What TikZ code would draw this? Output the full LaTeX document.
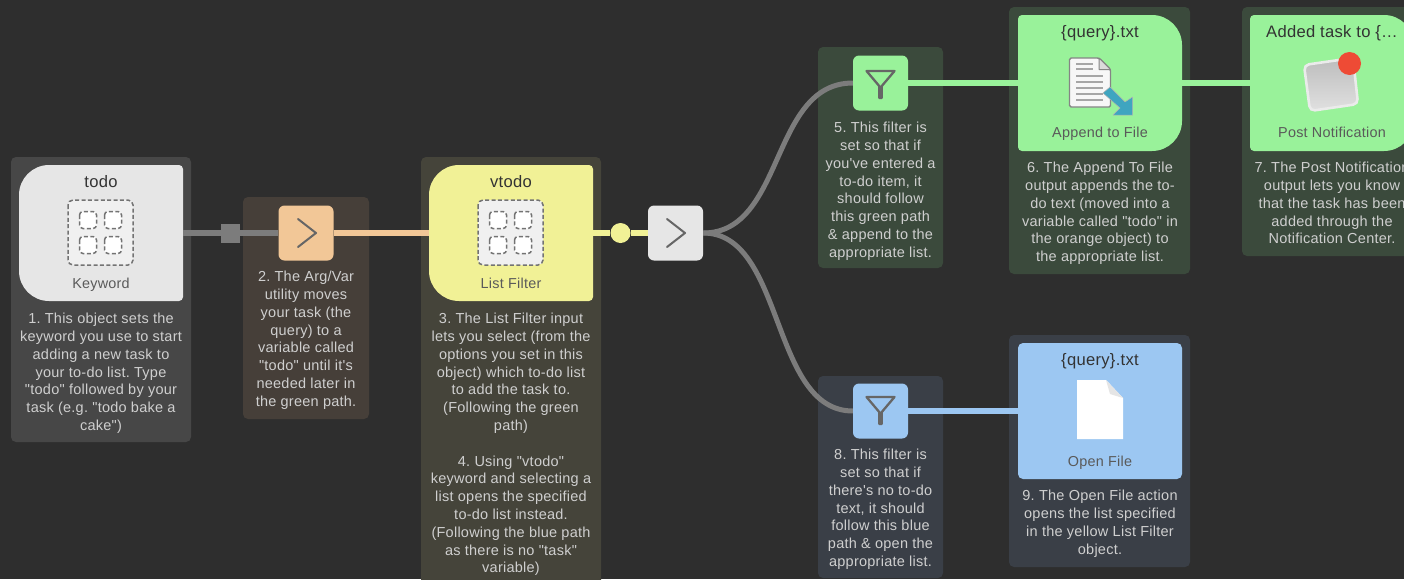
\documentclass[tikz,border=0pt]{standalone}
\usepackage{fontspec}
\newfontfamily\uifont{Liberation Sans}[LetterSpace=1.7]
\definecolor{bg}{HTML}{2E2E2E}
\definecolor{pgray}{HTML}{474747}
\definecolor{porange}{HTML}{463F39}
\definecolor{pyellow}{HTML}{45443A}
\definecolor{pgreen}{HTML}{3B4A3C}
\definecolor{pblue}{HTML}{3A3F47}
\definecolor{cgray}{HTML}{E6E6E6}
\definecolor{corange}{HTML}{F2C797}
\definecolor{cyellow}{HTML}{F1F196}
\definecolor{cgreen}{HTML}{99F29A}
\definecolor{cblue}{HTML}{9CC7F2}
\definecolor{lgray}{HTML}{7C7C7C}
\definecolor{dtext}{HTML}{CFCFCF}
\definecolor{ttext}{HTML}{333333}
\definecolor{stext}{HTML}{5A5A5A}
\definecolor{icong}{HTML}{666666}
\definecolor{teal}{HTML}{3FA5C0}
\definecolor{reddot}{HTML}{EE4B35}
\tikzset{
  x=1pt,y=-1pt,
  panel/.style={rounded corners=5pt,inner sep=0},
  desc/.style={font=\uifont\fontsize{14.5}{17.8}\selectfont\frenchspacing,text=dtext,align=center,inner sep=0,anchor=north,execute at begin node=\strut},
  ttl/.style={font=\uifont\fontsize{16.6}{18}\selectfont,text=ttext,inner sep=0,anchor=base},
  sub/.style={font=\uifont\fontsize{14.4}{16}\selectfont,text=stext,inner sep=0,anchor=base},
  sicon/.style={draw=icong,line width=2pt,line join=round,line cap=round},
  link/.style={draw=#1,line width=6pt},
  grid dash/.style={draw=black!55,line width=1.5pt,dash pattern=on 4pt off 2.4pt},
  util/.style={fill=#1,rounded corners=6pt,minimum width=55pt,minimum height=55pt,inner sep=0},
  cardanchor/.style={minimum width=164pt,minimum height=136pt,inner sep=0},
}
% west north east south, radii TL TR BR BL
\newcommand{\cardpath}[9]{%
  \fill[#9] ({#1+#5},#2) -- ({#3-#6},#2)
    .. controls ({#3-0.45*#6},#2) and (#3,{#2+0.45*#6}) .. (#3,{#2+#6})
    -- (#3,{#4-#7})
    .. controls (#3,{#4-0.45*#7}) and ({#3-0.45*#7},#4) .. ({#3-#7},#4)
    -- ({#1+#8},#4)
    .. controls ({#1+0.45*#8},#4) and (#1,{#4-0.45*#8}) .. (#1,{#4-#8})
    -- (#1,{#2+#5})
    .. controls (#1,{#2+0.45*#5}) and ({#1+0.45*#5},#2) .. ({#1+#5},#2) -- cycle;}
\newcommand{\gridicon}[3]{%
  \begin{scope}[shift={(#1,#2)}]
    \draw[grid dash,fill=#3,rounded corners=5pt] (-32.5,-32.5) rectangle (32.5,32.5);
    \draw[grid dash,fill=white,rounded corners=3.5pt] (-21,-21) rectangle (-4,-4);
    \draw[grid dash,fill=white,rounded corners=3.5pt] (4,-21) rectangle (21,-4);
    \draw[grid dash,fill=white,rounded corners=3.5pt] (-21,4) rectangle (-4,21);
    \draw[grid dash,fill=white,rounded corners=3.5pt] (4,4) rectangle (21,21);
  \end{scope}}
\newcommand{\chevron}[2]{\draw[sicon] ({#1-9},{#2-14}) -- ({#1+9},#2) -- ({#1-9},{#2+14});}
\newcommand{\funnel}[2]{\draw[sicon,line width=2.3pt] ({#1-14},{#2-14}) -- ({#1+14},{#2-14}) -- ({#1+1.3},{#2+1}) -- ({#1+1.3},{#2+13}) -- ({#1-1.3},{#2+13}) -- ({#1-1.3},{#2+1}) -- cycle;}
\begin{document}
\begin{tikzpicture}
\useasboundingbox (0,0) rectangle (1404,579);
\clip (0,0) rectangle (1404,579);
\fill[bg] (0,0) rectangle (1404,579);
% panels
\fill[pgray,panel] (11,157) rectangle (191,442);
\fill[porange,panel] (243,197) rectangle (369,419);
\fill[pyellow,panel] (421,157) rectangle (601,600);
\fill[pgreen,panel] (818,47) rectangle (943,268);
\fill[pgreen,panel] (1009,7) rectangle (1190,274);
\fill[pgreen,panel] (1242,7) rectangle (1430,256);
\fill[pblue,panel] (818,376) rectangle (943,578);
\fill[pblue,panel] (1009,335) rectangle (1190,567);
% cards
\cardpath{19}{165}{183}{301}{30}{4}{4}{30}{cgray}
\cardpath{429}{165}{593}{301}{30}{4}{4}{30}{cyellow}
\cardpath{1018}{15}{1182}{151}{4}{30}{30}{4}{cgreen}
\cardpath{1250}{15}{1414}{151}{4}{30}{30}{4}{cgreen}
\cardpath{1018}{343}{1182}{479}{5}{5}{5}{5}{cblue}
% anchors for the cards
\node[cardanchor] (kw) at (101,233) {};
\node[cardanchor] (lf) at (511,233) {};
\node[cardanchor] (af) at (1100,83) {};
\node[cardanchor] (pn) at (1332,83) {};
\node[cardanchor] (of) at (1100,411) {};
% utilities
\node[util=corange] (arg) at (306,233) {};
\node[util=cgray] (cond) at (675.5,233) {};
\node[util=cgreen] (fg) at (880.5,83) {};
\node[util=cblue] (fb) at (880.5,411) {};
\node[fill=lgray,minimum size=19pt,inner sep=0] (sq) at (230.5,233) {};
\node[circle,fill=cyellow,minimum size=20pt,inner sep=0] (dot) at (620.5,233) {};
% connectors
\draw[link=lgray] (kw.east) -- (sq.west);
\draw[link=lgray] (sq.east) -- (arg.west);
\draw[link=corange] (arg.east) -- (lf.west);
\draw[link=cyellow] (lf.east) -- (dot.west);
\draw[link=cyellow] (dot.east) -- (cond.west);
\draw[link=lgray,line width=5pt] (cond.east) .. controls (785,233) and (770,83) .. (fg.west);
\draw[link=lgray,line width=5pt] (cond.east) .. controls (785,233) and (770,411) .. (fb.west);
\draw[link=cgreen] (fg.east) -- (af.west);
\draw[link=cgreen] (af.east) -- (pn.west);
\draw[link=cblue] (fb.east) -- (of.west);
% icons
\chevron{307}{233}
\chevron{676}{233}
\funnel{880.5}{85}
\funnel{880.5}{411}
\gridicon{100.5}{232.5}{white!94!black}
\gridicon{510.5}{232.5}{white!94!black}
% append-to-file icon
\draw[fill=white!97!black,draw=black!48,line width=1.4pt,line join=round,rounded corners=1.5pt] (1069.5,58) -- (1099,58) -- (1110.5,69.5) -- (1110.5,107) -- (1069.5,107) -- cycle;
\draw[fill=black!14,draw=black!48,line width=1pt,line join=round] (1099,58) -- (1110.5,69.5) -- (1099,69.5) -- cycle;
\foreach \yy/\xe in {64/1093,69/1093,76/1103,82/1103,88/1103,94/1103,100/1103}
  \draw[black!35,line width=1.2pt] (1076,\yy) -- (\xe,\yy);
\draw[fill=teal,draw=black!30,line width=.5pt,line join=round] (1103,93) -- (1110,87) -- (1125,102) -- (1132.5,97) -- (1132.5,115) -- (1113,115) -- (1120,108) -- cycle;
% notification icon
\shade[top color=black!26,bottom color=black!12,draw=white!92!black,line width=2.6pt,rounded corners=5pt] (1304,65) -- (1353,58) -- (1358,104) -- (1310,111) -- cycle;
\fill[reddot] (1349.5,63.5) circle (11.5pt);
% open-file icon
\fill[white] (1077,380) -- (1106,380) -- (1123,398) -- (1123,439) -- (1077,439) -- cycle;
\fill[black!10] (1106,380) -- (1123,398) -- (1110,394) -- cycle;
% card titles
\node[ttl] (t1) at (101,187.5) {todo};
\node[sub] (s1) at (101,288) {Keyword};
\node[ttl] (t3) at (511,187.5) {vtodo};
\node[sub] (s3) at (511,288) {List Filter};
\node[ttl] (t6) at (1100,37.5) {\{query\}.txt};
\node[sub] (s6) at (1100,137) {Append to File};
\node[ttl] (t7) at (1332,37.5) {Added task to \{…};
\node[sub] (s7) at (1332,137) {Post Notification};
\node[ttl] (t9) at (1100,365.5) {\{query\}.txt};
\node[sub] (s9) at (1100,466) {Open File};
% descriptions
\node[desc] (d1) at (101,313) {1. This object sets the\\keyword you use to start\\adding a new task to\\your to-do list. Type\\"todo" followed by your\\task (e.g. "todo bake a\\cake")};
\node[desc] (d2) at (306,271) {2. The Arg/Var\\utility moves\\your task (the\\query) to a\\variable called\\"todo" until it's\\needed later in\\the green path.};
\node[desc] (d3) at (511,313) {3. The List Filter input\\lets you select (from the\\options you set in this\\object) which to-do list\\to add the task to.\\(Following the green\\path)\\[\baselineskip]4. Using "vtodo"\\keyword and selecting a\\list opens the specified\\to-do list instead.\\(Following the blue path\\as there is no "task"\\variable)};
\node[desc] (d5) at (880.5,122) {5. This filter is\\set so that if\\you've entered a\\to-do item, it\\should follow\\this green path\\\& append to the\\appropriate list.};
\node[desc] (d6) at (1100,162) {6. The Append To File\\output appends the to-\\do text (moved into a\\variable called "todo" in\\the orange object) to\\the appropriate list.};
\node[desc] (d7) at (1332,162) {7. The Post Notification\\output lets you know\\that the task has been\\added through the\\Notification Center.};
\node[desc] (d8) at (880.5,449) {8. This filter is\\set so that if\\there's no to-do\\text, it should\\follow this blue\\path \& open the\\appropriate list.};
\node[desc] (d9) at (1100,490) {9. The Open File action\\opens the list specified\\in the yellow List Filter\\object.};
\end{tikzpicture}
\end{document}
